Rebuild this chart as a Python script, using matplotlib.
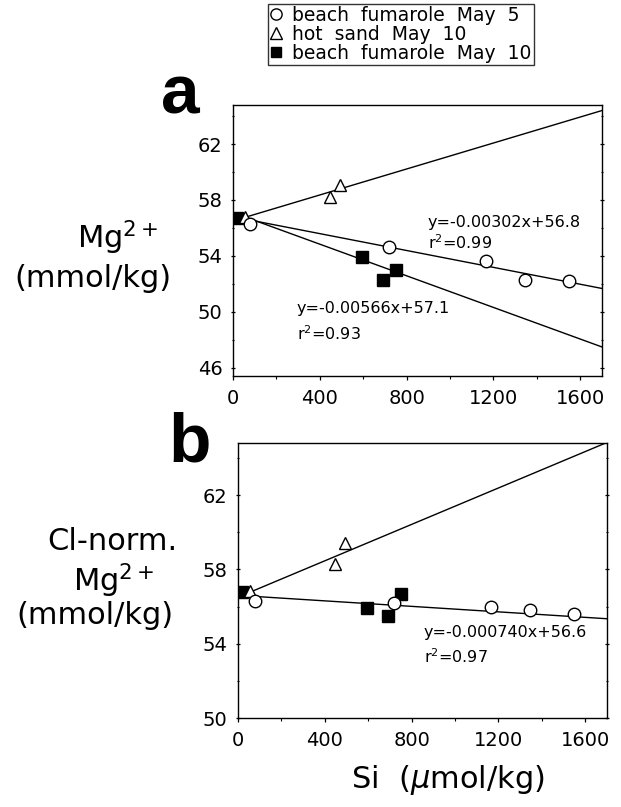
import numpy as np
import matplotlib
matplotlib.use("Agg")
import matplotlib.pyplot as plt
from matplotlib.lines import Line2D
from matplotlib.ticker import MultipleLocator

# ---------------- data ----------------
series_labels = ["beach  fumarole  May  5", "hot  sand  May  10", "beach  fumarole  May  10"]

# beach fumarole May 5 (open circles)
si_may5 = [78, 721, 1165, 1347, 1546]
mg_may5_a = [56.3, 54.6, 53.6, 52.3, 52.2]
mg_may5_b = [56.3, 56.2, 55.96, 55.8, 55.6]

# hot sand May 10 (open triangles)
si_sand = [55, 447, 492]
mg_sand_a = [56.75, 58.2, 59.1]
mg_sand_b = [56.85, 58.3, 59.4]

# beach fumarole May 10 (filled squares)
si_may10 = [20, 596, 689, 750]
mg_may10_a = [56.7, 53.9, 52.3, 53.0]
mg_may10_b = [56.8, 55.9, 55.5, 56.7]

# lines (slope, intercept): regression equations printed on the chart,
# and the hot-sand lines
fit_a_may5 = (-0.00302, 56.8)
fit_a_may10 = (-0.00566, 57.1)
fit_b_all = (-0.000740, 56.6)
line_a_sand = (0.00465, 56.5)
line_b_sand = (0.00490, 56.5)
eq_a_may5 = ["y=-0.00302x+56.8", "r$^2$=0.99"]
eq_a_may10 = ["y=-0.00566x+57.1", "r$^2$=0.93"]
eq_b_all = ["y=-0.000740x+56.6", "r$^2$=0.97"]

x_ticks = [0, 400, 800, 1200, 1600]
y_ticks_a = [46, 50, 54, 58, 62]
y_ticks_b = [50, 54, 58, 62]

# ---------------- figure ----------------
W, H = 621, 807
fig = plt.figure(figsize=(W / 100, H / 100), dpi=100)
plt.rcParams['font.family'] = ['DejaVu Sans']


def fx(px):
    return px / W


def fy(py):
    return 1 - py / H


def make_axes(l, r, t, b):
    return fig.add_axes([fx(l), fy(b), (r - l) / W, (b - t) / H])


ax_a = make_axes(233, 602, 105, 376)
ax_b = make_axes(238, 607, 443, 718)

circ = dict(marker='o', ms=9, mfc='white', mec='black', mew=1.0, ls='none', zorder=5)
tri = dict(marker='^', ms=9, mfc='white', mec='black', mew=1.0, ls='none', zorder=5)
sq = dict(marker='s', ms=8, mfc='black', mec='black', mew=1.0, ls='none', zorder=5)

xline = np.array([0, 1700])


def draw_line(ax, fit):
    ax.plot(xline, fit[0] * xline + fit[1], color='black', lw=1.0)


def style_axes(ax, ylim, yticks):
    ax.set_xlim(0, 1700)
    ax.set_ylim(*ylim)
    ax.set_xticks(x_ticks)
    ax.set_yticks(yticks)
    ax.xaxis.set_minor_locator(MultipleLocator(200))
    ax.yaxis.set_minor_locator(MultipleLocator(2))
    ax.tick_params(axis='both', which='major', direction='out', length=3, width=0.9,
                   labelsize=14, pad=6)
    ax.tick_params(axis='both', which='minor', direction='out', length=2, width=0.8)
    ax.tick_params(axis='y', which='both', right=True, direction='inout')
    for s in ax.spines.values():
        s.set_linewidth(1.0)


# panel a
draw_line(ax_a, line_a_sand)
draw_line(ax_a, fit_a_may5)
draw_line(ax_a, fit_a_may10)
ax_a.plot(si_may10, mg_may10_a, **sq)
ax_a.plot(si_sand, mg_sand_a, **tri)
ax_a.plot(si_may5, mg_may5_a, **circ)
style_axes(ax_a, (45.4, 64.8), y_ticks_a)

# panel b
draw_line(ax_b, line_b_sand)
draw_line(ax_b, fit_b_all)
ax_b.plot(si_may10, mg_may10_b, **sq)
ax_b.plot(si_sand, mg_sand_b, **tri)
ax_b.plot(si_may5, mg_may5_b, **circ)
style_axes(ax_b, (50, 64.8), y_ticks_b)

# equations
eqfs = 11.5
fig.text(fx(428), fy(227), eq_a_may5[0], fontsize=eqfs, va='baseline', ha='left')
fig.text(fx(428), fy(249), eq_a_may5[1], fontsize=eqfs, va='baseline', ha='left')
fig.text(fx(297), fy(313), eq_a_may10[0], fontsize=eqfs, va='baseline', ha='left')
fig.text(fx(297), fy(340), eq_a_may10[1], fontsize=eqfs, va='baseline', ha='left')
fig.text(fx(424), fy(637), eq_b_all[0], fontsize=eqfs, va='baseline', ha='left')
fig.text(fx(424), fy(663), eq_b_all[1], fontsize=eqfs, va='baseline', ha='left')

# panel letters
letter_font = ['Liberation Sans Narrow', 'Liberation Sans', 'DejaVu Sans']
fig.text(fx(161), fy(113), 'a', fontsize=50, fontweight='bold', family=letter_font,
         va='baseline', ha='left')
fig.text(fx(168), fy(462), 'b', fontsize=50, fontweight='bold', family=letter_font,
         va='baseline', ha='left')

# y labels
lfs = 22
fig.text(fx(118), fy(248), 'Mg$^{2+}$', fontsize=lfs, ha='center', va='baseline')
fig.text(fx(93), fy(287), '(mmol/kg)', fontsize=lfs, ha='center', va='baseline')
fig.text(fx(112), fy(550), 'Cl-norm.', fontsize=lfs, ha='center', va='baseline')
fig.text(fx(114), fy(591), 'Mg$^{2+}$', fontsize=lfs, ha='center', va='baseline')
fig.text(fx(95), fy(624), '(mmol/kg)', fontsize=lfs, ha='center', va='baseline')

# x label
fig.text(fx(448), fy(788), 'Si  ($\\mathit{\\mu}$mol/kg)', fontsize=lfs, ha='center', va='baseline')

# legend
handles = [Line2D([], [], **circ), Line2D([], [], **tri), Line2D([], [], **sq)]
leg = fig.legend(handles, series_labels, loc='upper left',
                 bbox_to_anchor=(fx(268), fy(4)), frameon=True, fancybox=False,
                 edgecolor='black', fontsize=13.5, handlelength=0.6, handletextpad=0.6,
                 borderpad=0.1, labelspacing=0.0, borderaxespad=0, markerscale=0.9)
leg.get_frame().set_linewidth(1.0)

fig.savefig('out.png', dpi=100)
